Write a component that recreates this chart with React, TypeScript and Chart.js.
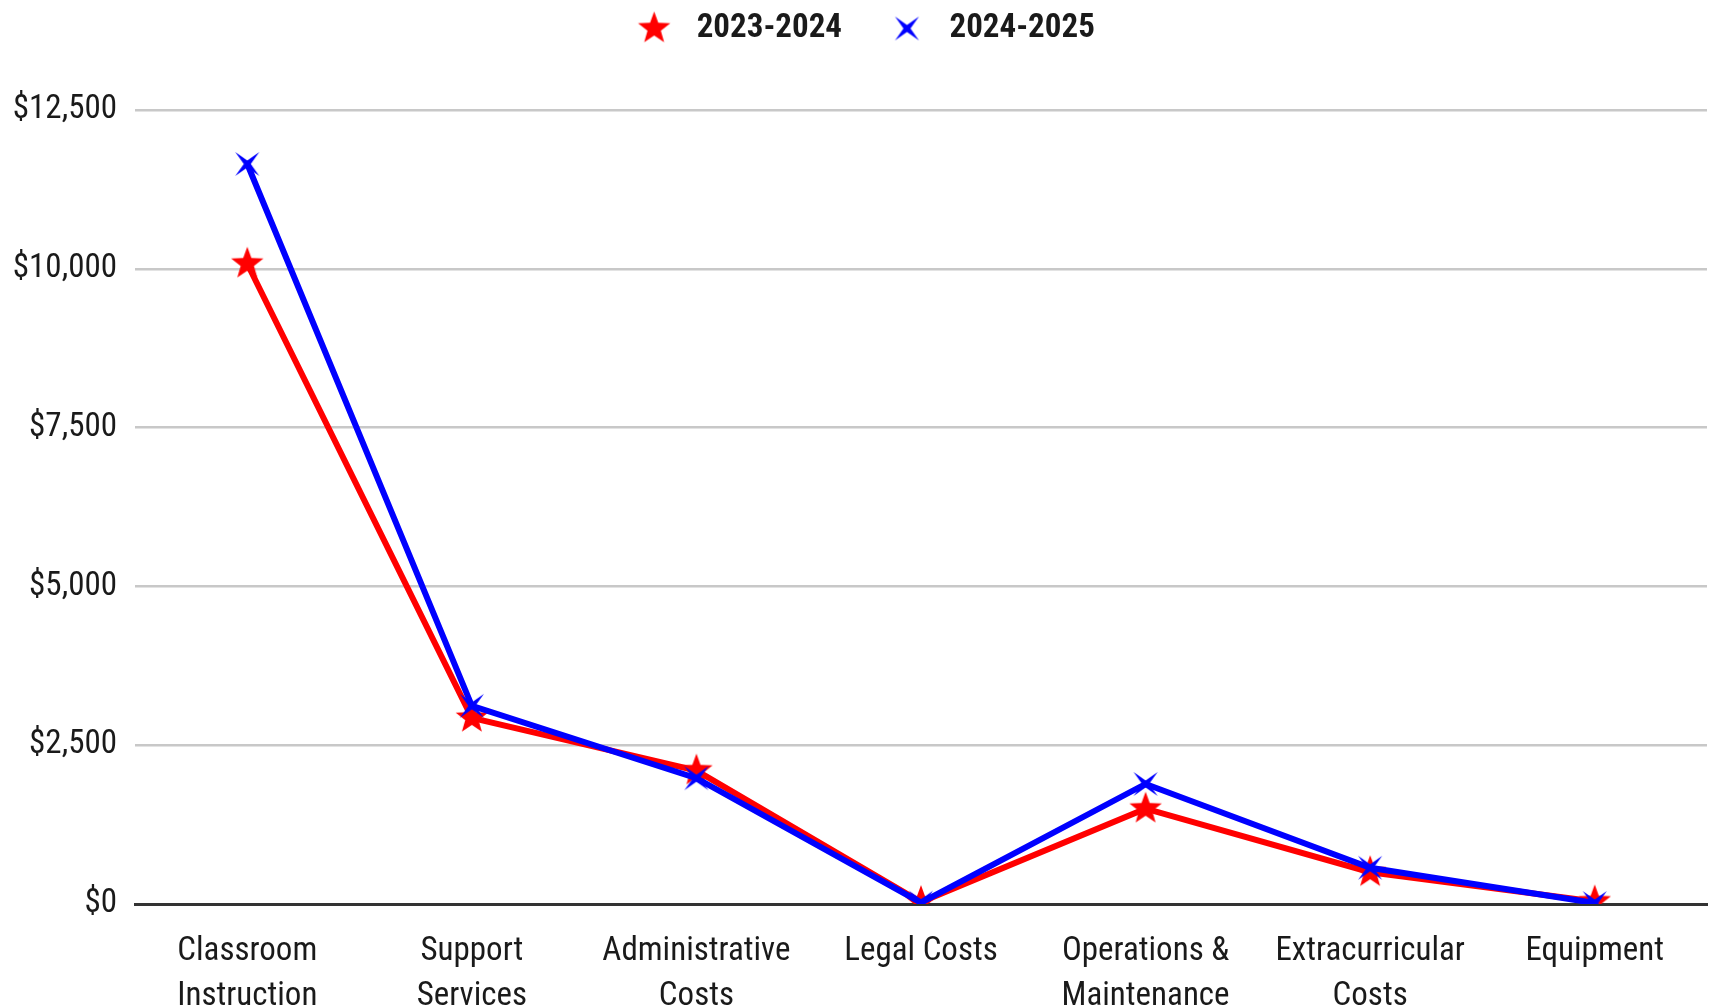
import React, { useEffect, useRef } from 'react';
import { Chart, registerables } from 'chart.js';

Chart.register(...registerables);

const categories: string[][] = [
  ['Classroom', 'Instruction'],
  ['Support', 'Services'],
  ['Administrative', 'Costs'],
  ['Legal Costs'],
  ['Operations &', 'Maintenance'],
  ['Extracurricular', 'Costs'],
  ['Equipment'],
];
const seriesNames = ['2023-2024', '2024-2025'];
const values2023 = [10080, 2930, 2100, 30, 1500, 500, 40];
const values2024 = [11650, 3120, 1980, 20, 1890, 570, 15];
const yTicks = [0, 2500, 5000, 7500, 10000, 12500];

const FONT = "'Roboto Condensed', 'Liberation Sans Narrow', Roboto, sans-serif";

function starCanvas(
  n: number,
  outer: number,
  inner: number,
  rot: number,
  color: string,
  width: number,
  height: number,
  cx: number,
  cy: number
): HTMLCanvasElement {
  const c = document.createElement('canvas');
  c.width = width;
  c.height = height;
  const g = c.getContext('2d')!;
  g.beginPath();
  for (let i = 0; i < 2 * n; i++) {
    const r = i % 2 === 0 ? outer : inner;
    const a = rot + (i * Math.PI) / n;
    const x = cx + r * Math.sin(a);
    const y = cy - r * Math.cos(a);
    if (i === 0) g.moveTo(x, y);
    else g.lineTo(x, y);
  }
  g.closePath();
  g.fillStyle = color;
  g.fill();
  return c;
}

const legendSpacer = {
  id: 'legendSpacer',
  beforeInit(chart: any) {
    const lg = chart.legend;
    if (!lg) return;
    const orig = lg.fit;
    lg.fit = function () {
      orig.call(this);
      this.height += 55;
      if (this.lineWidths && this.lineWidths.length) this.lineWidths[0] += 18;
    };
  },
};

export default function App() {
  const ref = useRef<HTMLCanvasElement | null>(null);

  useEffect(() => {
    document.body.style.margin = '0';
    const redPt = starCanvas(5, 17, 7, 0, '#ff0000', 38, 38, 19, 19);
    const bluePt = starCanvas(4, 17, 3.5, Math.PI / 4, '#0000ff', 38, 38, 19, 19);
    const redLeg = starCanvas(5, 17, 7, 0, '#ff0000', 66, 38, 47.5, 19);
    const blueLeg = starCanvas(4, 17, 3.5, Math.PI / 4, '#0000ff', 66, 38, 47.5, 19);
    const legendImgs = [redLeg, blueLeg];

    const chart = new Chart(ref.current!, {
      type: 'line',
      data: {
        labels: categories,
        datasets: [
          {
            label: seriesNames[0],
            data: values2023,
            borderColor: '#ff0000',
            backgroundColor: '#ff0000',
            borderWidth: 6,
            pointStyle: redPt,
            order: 1,
          },
          {
            label: seriesNames[1],
            data: values2024,
            borderColor: '#0000ff',
            backgroundColor: '#0000ff',
            borderWidth: 6,
            pointStyle: bluePt,
            order: 0,
          },
        ],
      },
      plugins: [legendSpacer],
      options: {
        animation: false,
        responsive: true,
        maintainAspectRatio: false,
        events: [],
        layout: { padding: { top: 2, right: 5, left: 0, bottom: 0 } },
        plugins: {
          tooltip: { enabled: false },
          legend: {
            position: 'top',
            align: 'center',
            labels: {
              usePointStyle: true,
              pointStyleWidth: 81,
              boxHeight: 32,
              padding: 10,
              color: '#1a1a1a',
              font: { family: FONT, size: 33, weight: 'bold' },
              sort: (a: any, b: any) => a.datasetIndex - b.datasetIndex,
              generateLabels: (ch: any) => {
                const items = (Chart.defaults.plugins.legend.labels as any).generateLabels(ch);
                return items.map((it: any) => ({ ...it, pointStyle: legendImgs[it.datasetIndex] }));
              },
            },
          },
        },
        scales: {
          x: {
            offset: true,
            grid: { display: false, drawTicks: false },
            border: { display: true, color: '#333', width: 3 },
            ticks: {
              color: '#1a1a1a',
              padding: 25,
              maxRotation: 0,
              autoSkip: false,
              font: { family: FONT, size: 33, lineHeight: 1.36 },
            },
            afterFit: (s: any) => {
              s.height = 104;
            },
          },
          y: {
            min: yTicks[0],
            max: yTicks[yTicks.length - 1],
            afterBuildTicks: (s: any) => {
              s.ticks = yTicks.map((v) => ({ value: v }));
            },
            grid: {
              drawTicks: false,
              color: (c: any) => (c.tick && c.tick.value === 0 ? 'rgba(0,0,0,0)' : '#c8c8c8'),
              lineWidth: 2.5,
            },
            border: { display: false },
            ticks: {
              color: '#1a1a1a',
              padding: 18,
              font: { family: FONT, size: 33 },
              callback: (v: any) => '$' + Number(v).toLocaleString('en-US'),
            },
            afterFit: (s: any) => {
              s.width = 135;
            },
          },
        },
      },
    });
    return () => chart.destroy();
  }, []);

  return (
    <div style={{ width: 1717, height: 1008, position: 'relative' }}>
      <canvas ref={ref} />
    </div>
  );
}
